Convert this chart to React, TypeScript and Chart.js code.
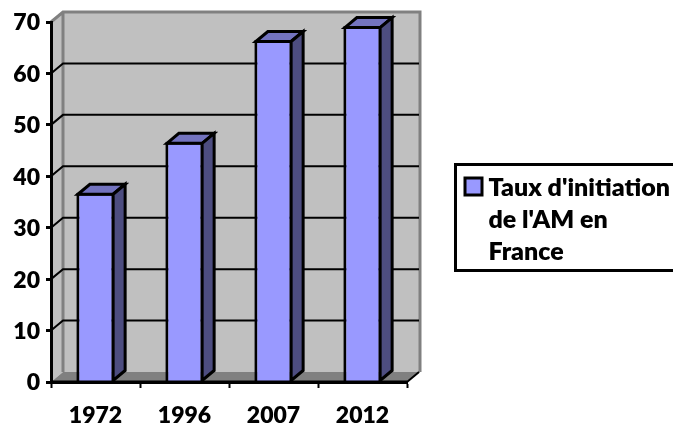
import React, { useEffect, useRef } from "react";
import { Chart, registerables } from "chart.js";

Chart.register(...registerables);

const categories = ["1972", "1996", "2007", "2012"];
const values = [36.8, 46.7, 66.5, 69.2];
const legendLines = ["Taux d'initiation", "de l'AM en", "France"];
const yTicks = { min: 0, max: 70, step: 10 };

const FONT = "Lato";
const DX = 12;
const DY = 10;

const poly = (ctx: CanvasRenderingContext2D, pts: number[][], fill: string, stroke?: string, lw = 3) => {
  ctx.beginPath();
  pts.forEach(([x, y], i) => (i ? ctx.lineTo(x, y) : ctx.moveTo(x, y)));
  ctx.closePath();
  ctx.fillStyle = fill;
  ctx.fill();
  if (stroke) {
    ctx.strokeStyle = stroke;
    ctx.lineWidth = lw;
    ctx.lineJoin = "miter";
    ctx.stroke();
  }
};

const depthPlugin = {
  id: "depth",
  beforeDraw(chart: any) {
    const { ctx, chartArea: a, scales, legend: lg } = chart;
    const y = scales.y;
    const back = a.right + DX + 1;
    ctx.save();
    // side wall, back wall, floor
    poly(ctx, [[a.left, a.top], [a.left + DX, a.top - DY], [a.left + DX, a.bottom - DY], [a.left, a.bottom]], "#c0c0c0");
    poly(ctx, [[a.left + DX, a.top - DY], [back, a.top - DY], [back, a.bottom - DY], [a.left + DX, a.bottom - DY]], "#c0c0c0");
    poly(ctx, [[a.left, a.bottom], [a.left + DX, a.bottom - DY], [back, a.bottom - DY], [a.right, a.bottom]], "#808080");
    // wall outlines
    ctx.strokeStyle = "#808080";
    ctx.lineWidth = 3;
    ctx.beginPath();
    ctx.moveTo(a.left, a.top);
    ctx.lineTo(a.left + DX, a.top - DY);
    ctx.lineTo(back, a.top - DY);
    ctx.lineTo(back, a.bottom - DY);
    ctx.moveTo(a.left + DX, a.top - DY);
    ctx.lineTo(a.left + DX, a.bottom - DY);
    ctx.stroke();
    // grid on the back wall with its step on the side wall
    ctx.strokeStyle = "#000";
    ctx.lineWidth = 2;
    for (let v = yTicks.min + yTicks.step; v < yTicks.max; v += yTicks.step) {
      const py = y.getPixelForValue(v);
      ctx.beginPath();
      ctx.moveTo(a.left, py);
      ctx.lineTo(a.left + DX, py - DY);
      ctx.lineTo(back - 1, py - DY);
      ctx.stroke();
    }
    // legend frame and swatch
    ctx.strokeStyle = "#000";
    ctx.lineWidth = 3;
    ctx.strokeRect(455.5, 164.5, 222, 106);
    ctx.fillStyle = "#9999ff";
    ctx.fillRect(465, 178, 17, 17);
    ctx.strokeRect(465, 178, 17, 17);
    ctx.restore();
    // legend text sits inside that frame
    lg.left = 464;
    lg.top = 175;
    lg.right = 673;
    lg.bottom = 270;
    lg.width = 209;
    lg.height = 95;
  },
  afterDatasetsDraw(chart: any) {
    const { ctx, chartArea: a } = chart;
    ctx.save();
    chart.getDatasetMeta(0).data.forEach((bar: any) => {
      const l = bar.x - bar.width / 2 + 1.5;
      const r = bar.x + bar.width / 2 - 1.5;
      const t = bar.y + 1.5;
      const b = bar.base - 1;
      poly(ctx, [[l, t], [l + DX, t - DY], [r + DX, t - DY], [r, t]], "#7373bf", "#000");
      poly(ctx, [[r, t], [r + DX, t - DY], [r + DX, b - DY], [r, b]], "#4d4d80", "#000");
    });
    ctx.strokeStyle = "#000";
    ctx.lineWidth = 3;
    ctx.beginPath();
    ctx.moveTo(a.left, a.bottom);
    ctx.lineTo(a.right, a.bottom);
    ctx.stroke();
    ctx.lineWidth = 2;
    ctx.beginPath();
    ctx.moveTo(a.right, a.bottom);
    ctx.lineTo(a.right + DX, a.bottom - DY);
    ctx.stroke();
    ctx.restore();
  },
};

export default function App() {
  const ref = useRef<HTMLCanvasElement>(null);
  useEffect(() => {
    document.body.style.margin = "0";
    const chart = new Chart(ref.current!, {
      type: "bar",
      data: {
        labels: categories,
        datasets: [
          {
            label: legendLines.join(" "),
            data: values,
            backgroundColor: "#9999ff",
            borderColor: "#000",
            borderWidth: 3,
            barPercentage: 1,
            categoryPercentage: 0.43,
          },
        ],
      },
      options: {
        animation: false,
        responsive: false,
        layout: { padding: { left: 0, top: 22, right: 266, bottom: 0 } },
        plugins: {
          title: { display: false },
          tooltip: { enabled: false },
          legend: {
            position: "chartArea",
            align: "start",
            labels: {
              padding: 0,
              boxWidth: 12,
              boxHeight: 12,
              color: "#000",
              font: { family: FONT, size: 25, weight: 800, lineHeight: 1.28 },
              generateLabels: () => [
                { text: legendLines, fillStyle: "rgba(0,0,0,0)", strokeStyle: "rgba(0,0,0,0)", lineWidth: 0, datasetIndex: 0 },
              ],
            },
          },
        },
        scales: {
          x: {
            afterFit: (s: any) => {
              s.height = 42;
            },
            grid: { drawOnChartArea: false, tickLength: 6, tickColor: "#000", tickWidth: 2, offset: true },
            border: { color: "#000", width: 3 },
            ticks: { color: "#000", maxRotation: 0, padding: 14, font: { family: FONT, size: 23, weight: 800 } },
          },
          y: {
            min: yTicks.min,
            max: yTicks.max,
            afterFit: (s: any) => {
              s.width = 51;
            },
            grid: { drawOnChartArea: false, tickLength: 5, tickColor: "#000", tickWidth: 3 },
            border: { color: "#000", width: 3 },
            ticks: { stepSize: yTicks.step, color: "#000", padding: 6, labelOffset: 1, font: { family: FONT, size: 23, weight: 800 } },
          },
        },
      },
      plugins: [depthPlugin],
    } as any);
    return () => chart.destroy();
  }, []);
  return <canvas ref={ref} width={673} height={424} style={{ display: "block" }} />;
}
